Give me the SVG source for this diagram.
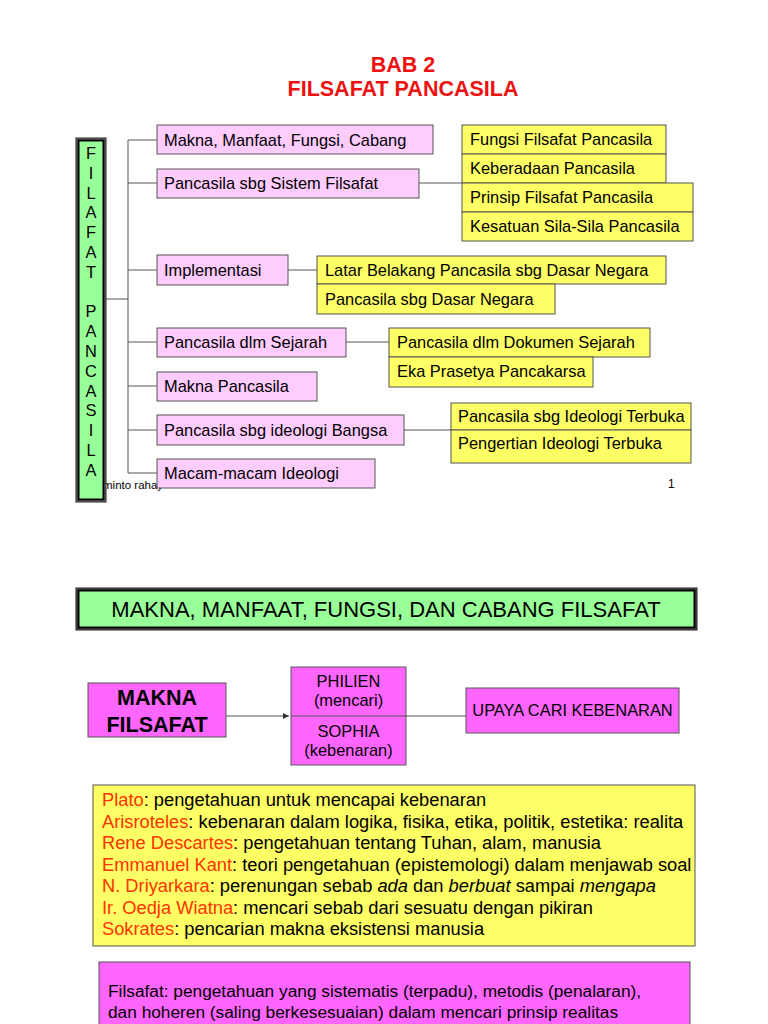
<svg xmlns="http://www.w3.org/2000/svg" width="768" height="1024" viewBox="0 0 768 1024">
<style>
text{font-family:"Liberation Sans",Arial,sans-serif;fill:#000}
.t16{font-size:16.4px}
.pk{fill:#FFCCFF;stroke:#555;stroke-width:1}
.yl{fill:#FFFF66;stroke:#555;stroke-width:1}
.mg{fill:#FF66FF;stroke:#555;stroke-width:1}
.cn{stroke:#555;stroke-width:1;fill:none}
.red{fill:#FF3300}
.title{font-size:21.5px;font-weight:bold;fill:#EE1111}
</style>
<defs>
<marker id="arr" viewBox="0 0 6 6" refX="6" refY="3" markerWidth="6" markerHeight="6" orient="auto" markerUnits="userSpaceOnUse">
<path d="M0,0 L6,3 L0,6 z" fill="#333"/>
</marker>
</defs>
<rect width="768" height="1024" fill="#fff"/>

<g id="title">
<text class="title" x="403" y="72" text-anchor="middle">BAB 2</text>
<text class="title" x="403" y="96" text-anchor="middle">FILSAFAT PANCASILA</text>
</g>

<text x="103" y="489" style="font-size:11.5px">minto rahay</text>
<text x="668" y="488" style="font-size:12px">1</text>

<g id="connectors">
<path class="cn" d="M106,299 H128 M128,140 V473 M128,140 H157 M128,183 H157 M128,270 H157 M128,342 H157 M128,386 H157 M128,430 H157 M128,473 H157"/>
<path class="cn" d="M419,183 H462 M288,270 H317 M346,342 H389 M404,430 H451"/>
<path class="cn" d="M226,716 H289" marker-end="url(#arr)"/>
<path class="cn" d="M406,716 H466"/>
</g>

<g id="filsafat-pancasila">
<rect x="76" y="138" width="30" height="364" fill="#777" stroke="#222" stroke-width="1"/>
<rect x="78.5" y="140.5" width="25" height="359" fill="#99FF99" stroke="#000" stroke-width="2"/>
<text class="t16" text-anchor="middle">
<tspan x="91" y="159">F</tspan><tspan x="91" y="178.8">I</tspan><tspan x="91" y="198.6">L</tspan><tspan x="91" y="218.4">A</tspan><tspan x="91" y="238.2">F</tspan><tspan x="91" y="258">A</tspan><tspan x="91" y="277.8">T</tspan><tspan x="91" y="317.4">P</tspan><tspan x="91" y="337.2">A</tspan><tspan x="91" y="357">N</tspan><tspan x="91" y="376.8">C</tspan><tspan x="91" y="396.6">A</tspan><tspan x="91" y="416.4">S</tspan><tspan x="91" y="436.2">I</tspan><tspan x="91" y="456">L</tspan><tspan x="91" y="475.8">A</tspan>
</text>
</g>

<g id="n-makna-manfaat"><rect class="pk" x="157" y="125" width="276" height="29"/><text class="t16" x="164" y="145.5">Makna, Manfaat, Fungsi, Cabang</text></g>
<g id="n-sistem"><rect class="pk" x="157" y="169" width="262" height="29"/><text class="t16" x="164" y="189">Pancasila sbg Sistem Filsafat</text></g>
<g id="n-implementasi"><rect class="pk" x="157" y="255" width="131" height="30"/><text class="t16" x="164" y="276">Implementasi</text></g>
<g id="n-sejarah"><rect class="pk" x="157" y="328" width="189" height="29"/><text class="t16" x="164" y="348">Pancasila dlm Sejarah</text></g>
<g id="n-makna-pancasila"><rect class="pk" x="157" y="372" width="160" height="29"/><text class="t16" x="164" y="392">Makna Pancasila</text></g>
<g id="n-ideologi-bangsa"><rect class="pk" x="157" y="415" width="247" height="30"/><text class="t16" x="164" y="436">Pancasila sbg ideologi Bangsa</text></g>
<g id="n-macam"><rect class="pk" x="157" y="459" width="218" height="29"/><text class="t16" x="164" y="479">Macam-macam Ideologi</text></g>

<g id="n-fungsi"><rect class="yl" x="462" y="125" width="204" height="29"/><text class="t16" x="470" y="145">Fungsi Filsafat Pancasila</text></g>
<g id="n-keberadaan"><rect class="yl" x="462" y="154" width="204" height="29"/><text class="t16" x="470" y="174">Keberadaan Pancasila</text></g>
<g id="n-prinsip"><rect class="yl" x="462" y="183" width="231" height="29"/><text class="t16" x="470" y="203">Prinsip Filsafat Pancasila</text></g>
<g id="n-kesatuan"><rect class="yl" x="462" y="212" width="231" height="29"/><text class="t16" x="470" y="232">Kesatuan Sila-Sila Pancasila</text></g>

<g id="n-latar"><rect class="yl" x="317" y="256" width="349" height="28"/><text class="t16" x="325" y="275.5">Latar Belakang Pancasila sbg Dasar Negara</text></g>
<g id="n-dasar"><rect class="yl" x="317" y="284" width="238" height="30"/><text class="t16" x="325" y="304.5">Pancasila sbg Dasar Negara</text></g>

<g id="n-dokumen"><rect class="yl" x="389" y="328" width="261" height="29"/><text class="t16" x="397" y="348">Pancasila dlm Dokumen Sejarah</text></g>
<g id="n-eka"><rect class="yl" x="389" y="357" width="204" height="30"/><text class="t16" x="397" y="377">Eka Prasetya Pancakarsa</text></g>

<g id="n-terbuka"><rect class="yl" x="451" y="403" width="240" height="27"/><text class="t16" x="458" y="421.5">Pancasila sbg Ideologi Terbuka</text></g>
<g id="n-pengertian"><rect class="yl" x="451" y="430" width="240" height="33"/><text class="t16" x="458" y="449">Pengertian Ideologi Terbuka</text></g>

<g id="header2">
<rect x="76" y="588" width="621" height="42" fill="#555" stroke="#222" stroke-width="1"/>
<rect x="78.5" y="590.5" width="616" height="37" fill="#99FF99" stroke="#000" stroke-width="2"/>
<text x="386" y="616.5" text-anchor="middle" style="font-size:22px">MAKNA, MANFAAT, FUNGSI, DAN CABANG FILSAFAT</text>
</g>

<g id="n-makna-filsafat">
<rect class="mg" x="88" y="683" width="138" height="54"/>
<text x="157" y="705" text-anchor="middle" style="font-size:21.5px;font-weight:bold">MAKNA</text>
<text x="157" y="732" text-anchor="middle" style="font-size:21.5px;font-weight:bold">FILSAFAT</text>
</g>

<g id="n-philien">
<rect class="mg" x="291" y="667" width="115" height="98"/>
<line class="cn" x1="291" y1="716" x2="406" y2="716"/>
<text class="t16" x="348.5" y="687" text-anchor="middle">PHILIEN</text>
<text class="t16" x="348.5" y="706" text-anchor="middle">(mencari)</text>
<text class="t16" x="348.5" y="737" text-anchor="middle">SOPHIA</text>
<text class="t16" x="348.5" y="756" text-anchor="middle">(kebenaran)</text>
</g>

<g id="n-upaya">
<rect class="mg" x="466" y="688" width="213" height="45"/>
<text class="t16" x="572.5" y="716" text-anchor="middle">UPAYA CARI KEBENARAN</text>
</g>

<g id="n-tokoh">
<rect class="yl" x="93" y="785" width="602" height="161"/>
<text style="font-size:18.3px">
<tspan x="102" y="806"><tspan class="red">Plato</tspan>: pengetahuan untuk mencapai kebenaran</tspan>
<tspan x="102" y="827.5"><tspan class="red">Arisroteles</tspan>: kebenaran dalam logika, fisika, etika, politik, estetika: realita</tspan>
<tspan x="102" y="849"><tspan class="red">Rene Descartes</tspan>: pengetahuan tentang Tuhan, alam, manusia</tspan>
<tspan x="102" y="870.5"><tspan class="red">Emmanuel Kant</tspan>: teori pengetahuan (epistemologi) dalam menjawab soal</tspan>
<tspan x="102" y="892"><tspan class="red">N. Driyarkara</tspan>: perenungan sebab <tspan font-style="italic">ada</tspan> dan <tspan font-style="italic">berbuat</tspan> sampai <tspan font-style="italic">mengapa</tspan></tspan>
<tspan x="102" y="913.5"><tspan class="red">Ir. Oedja Wiatna</tspan>: mencari sebab dari sesuatu dengan pikiran</tspan>
<tspan x="102" y="935"><tspan class="red">Sokrates</tspan>: pencarian makna eksistensi manusia</tspan>
</text>
</g>

<g id="n-definisi">
<rect class="mg" x="99" y="962" width="591" height="80"/>
<text style="font-size:17.3px">
<tspan x="108" y="997">Filsafat: pengetahuan yang sistematis (terpadu), metodis (penalaran),</tspan>
<tspan x="108" y="1018">dan hoheren (saling berkesesuaian) dalam mencari prinsip realitas</tspan>
</text>
</g>
</svg>
